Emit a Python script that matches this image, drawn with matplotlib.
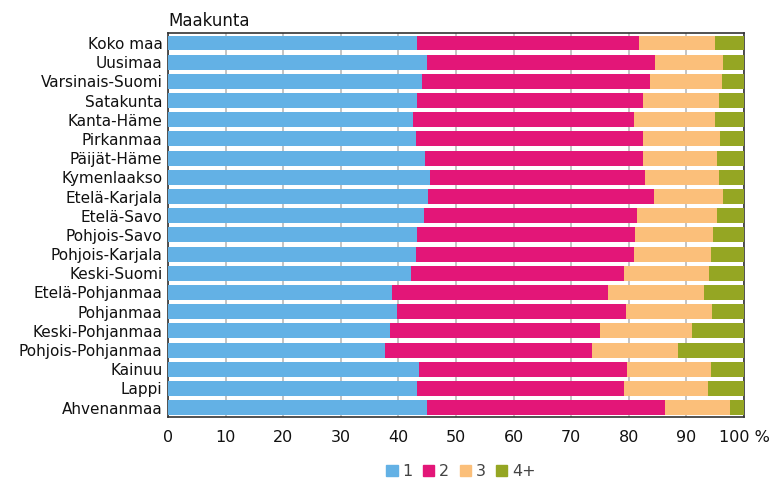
import numpy as np
import matplotlib.pyplot as plt
from matplotlib.patches import Patch

regions = ['Koko maa', 'Uusimaa', 'Varsinais-Suomi', 'Satakunta', 'Kanta-Häme', 'Pirkanmaa',
           'Päijät-Häme', 'Kymenlaakso', 'Etelä-Karjala', 'Etelä-Savo', 'Pohjois-Savo',
           'Pohjois-Karjala', 'Keski-Suomi', 'Etelä-Pohjanmaa', 'Pohjanmaa', 'Keski-Pohjanmaa',
           'Pohjois-Pohjanmaa', 'Kainuu', 'Lappi', 'Ahvenanmaa']

# cumulative boundaries (% share)
cum1 = [43.3, 44.9, 44.1, 43.3, 42.5, 43.0, 44.7, 45.5, 45.2, 44.4, 43.3, 43.0, 42.1, 38.8, 39.7, 38.5, 37.7, 43.5, 43.3, 44.9]
cum2 = [81.7, 84.5, 83.7, 82.5, 80.9, 82.5, 82.5, 82.8, 84.3, 81.4, 81.1, 80.9, 79.2, 76.4, 79.5, 75.0, 73.6, 79.7, 79.2, 86.2]
cum3 = [95.0, 96.4, 96.1, 95.6, 95.0, 95.9, 95.3, 95.6, 96.4, 95.3, 94.7, 94.2, 94.0, 93.1, 94.5, 90.9, 88.6, 94.2, 93.7, 97.5]

one = np.array(cum1)
two = np.array(cum2) - np.array(cum1)
three = np.array(cum3) - np.array(cum2)
four = 100 - np.array(cum3)

series = ['1', '2', '3', '4+']
colors = ['#63b1e5', '#e31678', '#fbbf7a', '#95a623']

fig = plt.figure(figsize=(7.84, 4.84), dpi=100)
ax = fig.add_axes([0.2143, 0.138, 0.7347, 0.793])

y = np.arange(len(regions))
left = np.zeros(len(regions))
for vals, c in zip([one, two, three, four], colors):
    ax.barh(y, vals, left=left, height=0.78, color=c, zorder=3)
    left = left + vals

ax.set_xlim(0, 100)
ax.set_ylim(len(regions) - 0.5, -0.5)
ax.set_yticks(y)
ax.set_yticklabels(regions, fontsize=11, color='#111111')
ax.set_xticks(np.arange(0, 101, 10))
ax.set_xticklabels([str(v) for v in range(0, 100, 10)] + ['100 %'], fontsize=11.5, color='#111111')
ax.tick_params(axis='both', length=0)
ax.tick_params(axis='x', pad=9)
ax.tick_params(axis='y', pad=4)
ax.grid(axis='x', color='#c4c4c4', linewidth=1.4, zorder=0)
for s in ax.spines.values():
    s.set_color('#333333')
    s.set_linewidth(1.2)

ax.text(0, 1.008, 'Maakunta', transform=ax.transAxes, fontsize=12, ha='left', va='bottom',
        color='#111111')

handles = [Patch(color=c) for c in colors]
fig.legend(handles, series, loc='center', bbox_to_anchor=(0.588, 0.025), ncol=4, frameon=False,
           handlelength=0.7, handleheight=0.7, handletextpad=0.3, columnspacing=0.65,
           prop={'size': 11.5}, labelcolor='#444444')

fig.savefig('out.png', dpi=100)
